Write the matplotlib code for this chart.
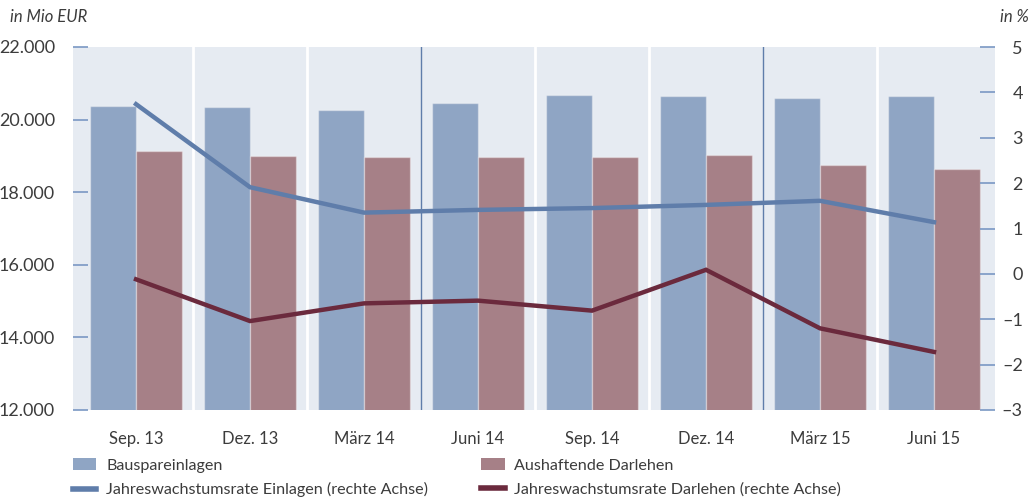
import matplotlib
matplotlib.use("Agg")
import matplotlib.pyplot as plt
from matplotlib.patches import Patch
from matplotlib.lines import Line2D
import numpy as np

categories = ["Sep. 13", "Dez. 13", "März 14", "Juni 14", "Sep. 14", "Dez. 14", "März 15", "Juni 15"]
bauspareinlagen = [20375, 20340, 20265, 20450, 20670, 20650, 20590, 20660]
darlehen = [19135, 19005, 18970, 18960, 18970, 19015, 18755, 18630]
rate_einlagen = [3.74, 1.91, 1.35, 1.41, 1.45, 1.52, 1.61, 1.14]
rate_darlehen = [-0.12, -1.04, -0.65, -0.59, -0.81, 0.09, -1.20, -1.72]
left_ticks = [12000, 14000, 16000, 18000, 20000, 22000]
left_labels = ["12.000", "14.000", "16.000", "18.000", "20.000", "22.000"]
right_ticks = [-3, -2, -1, 0, 1, 2, 3, 4, 5]
right_labels = ["–3", "–2", "–1", "0", "1", "2", "3", "4", "5"]

FONT = "Lato"
TXT = "#3c3c3c"
C_BLUE_BAR = "#8FA5C4"
C_RED_BAR = "#A68087"
C_BG = "#E6EBF2"
C_BLUE_LINE = "#5F7DAA"
C_RED_LINE = "#6B2A3D"
C_TICK = "#7A98C4"

plt.rcParams["font.family"] = [FONT, "DejaVu Sans"]

fig = plt.figure(figsize=(10.31, 5.0), dpi=100)
ax = fig.add_axes([73/1031, 90/500, (995-73)/1031, (410-47)/500])
ax.set_facecolor(C_BG)
for s in ax.spines.values():
    s.set_visible(False)

x = np.arange(len(categories))
w = 0.40
ax.bar(x - w/2, bauspareinlagen, width=w, color=C_BLUE_BAR, edgecolor=(1, 1, 1, 0.35), linewidth=1, zorder=2)
ax.bar(x + w/2, darlehen, width=w, color=C_RED_BAR, edgecolor=(1, 1, 1, 0.35), linewidth=1, zorder=2)

for b in [0.5, 1.5, 3.5, 4.5, 6.5]:
    ax.axvline(b, color="white", lw=2, zorder=1)
for b in [2.5, 5.5]:
    ax.axvline(b, color=C_BLUE_LINE, lw=1, zorder=1)

ax.set_xlim(-0.553, 7.535)
ax.set_ylim(12000, 22000)
ax.set_yticks(left_ticks)
ax.set_yticklabels(left_labels)
ax.set_xticks(x)
ax.set_xticklabels(categories)
ax.tick_params(axis="y", direction="in", length=11, width=1.2, color=C_TICK, pad=13,
               labelsize=13, labelcolor=TXT)
ax.tick_params(axis="x", length=0, pad=15, labelsize=12, labelcolor=TXT)

ax2 = ax.twinx()
for s in ax2.spines.values():
    s.set_visible(False)
ax2.plot(x, rate_einlagen, color=C_BLUE_LINE, lw=3.2, solid_joinstyle="miter", zorder=3)
ax2.plot(x, rate_darlehen, color=C_RED_LINE, lw=3.2, solid_joinstyle="miter", zorder=3)
ax2.set_ylim(-3, 5)
ax2.set_yticks(right_ticks)
ax2.set_yticklabels(right_labels)
ax2.tick_params(axis="y", direction="in", length=11, width=1.2, color=C_TICK, pad=20,
                labelsize=13, labelcolor=TXT)
for t in ax2.get_yticklabels():
    t.set_horizontalalignment("right")

fig.text(10/1031, 1 - 17/500, "in Mio EUR", style="italic", fontsize=12, color=TXT,
         va="center", ha="left")
fig.text(1029/1031, 1 - 17/500, "in %", style="italic", fontsize=12, color=TXT,
         va="center", ha="right")

handles = [
    Patch(facecolor=C_BLUE_BAR, edgecolor="none"),
    Line2D([0], [0], color=C_BLUE_LINE, lw=4),
    Patch(facecolor=C_RED_BAR, edgecolor="none"),
    Line2D([0], [0], color=C_RED_LINE, lw=4),
]
labels = [
    "Bauspareinlagen",
    "Jahreswachstumsrate Einlagen (rechte Achse)",
    "Aushaftende Darlehen",
    "Jahreswachstumsrate Darlehen (rechte Achse)",
]
leg = fig.legend(handles, labels, ncol=2, loc="upper left",
                 bbox_to_anchor=(73/1031, 1 - 458/500), frameon=False,
                 fontsize=11.6, handlelength=1.45, handleheight=0.8, handletextpad=0.6,
                 columnspacing=3.3, labelspacing=0.6, borderaxespad=0, borderpad=0)
for t in leg.get_texts():
    t.set_color(TXT)

fig.savefig("out.png", dpi=100)
